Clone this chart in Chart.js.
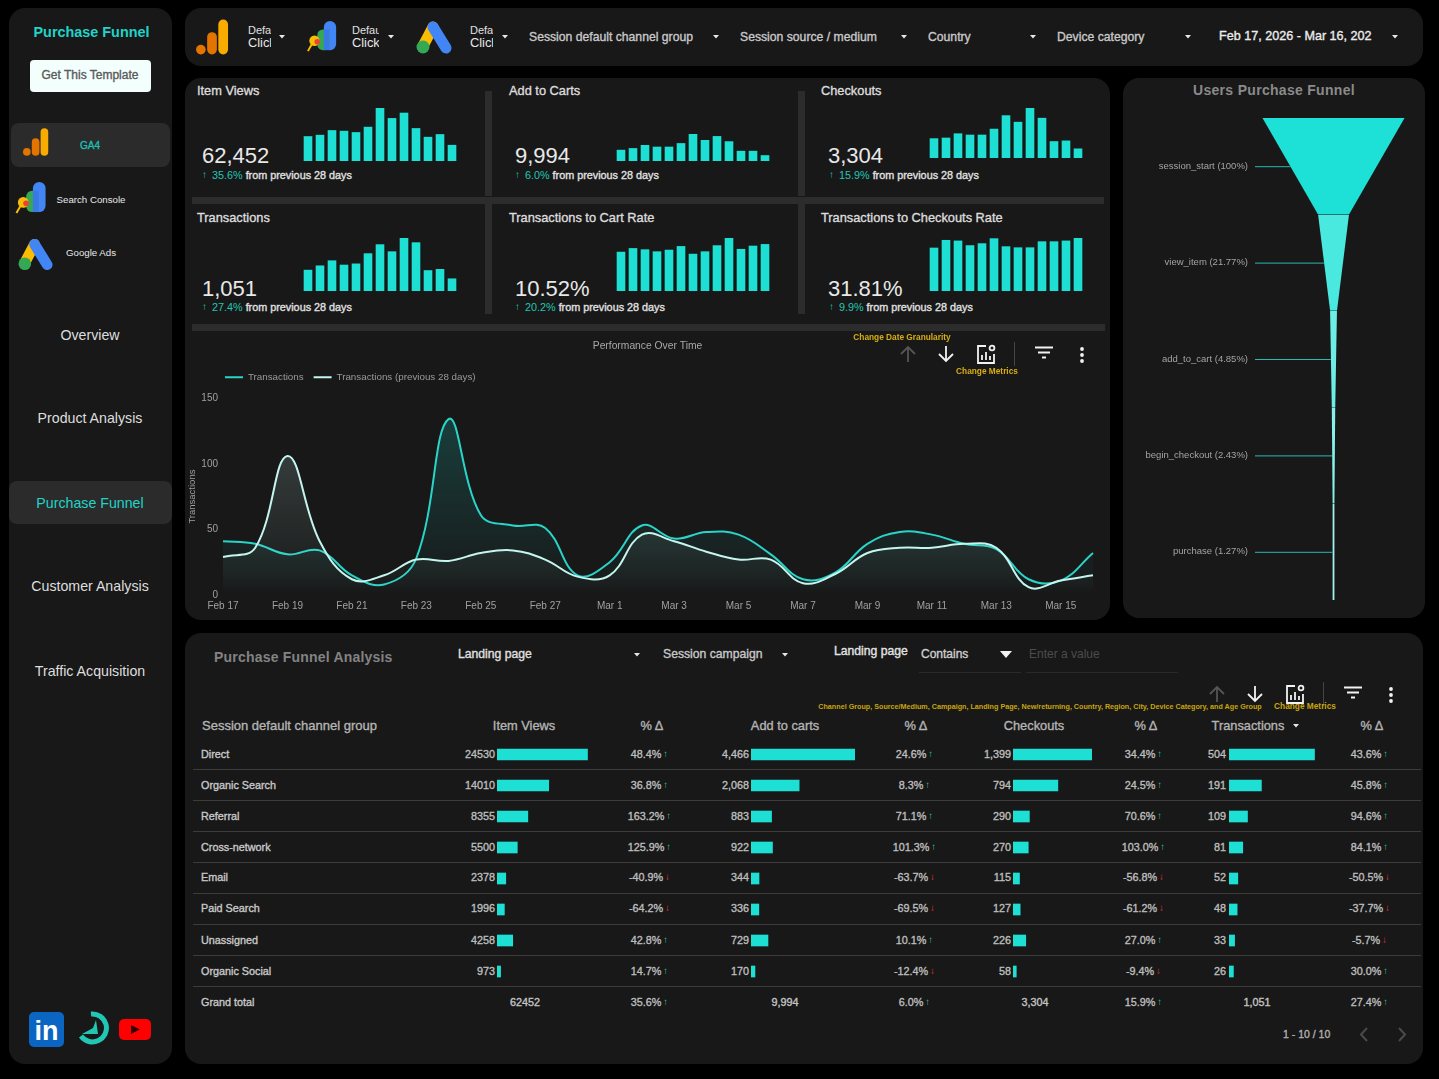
<!DOCTYPE html>
<html>
<head>
<meta charset="utf-8">
<title>Purchase Funnel</title>
<script src="https://cdn.jsdelivr.net/npm/chart.js@4"></script>
<style>
  html, body { margin: 0; padding: 0; background: #000; width: 1439px; height: 1079px; overflow: hidden; }
  body { position: relative; font-family: "Liberation Sans", Arial, sans-serif; }
  .panel { position: absolute; background: #181818; border-radius: 16px; }
  .t { position: absolute; white-space: nowrap; line-height: 1.2; }
  .box { position: absolute; }
  canvas { position: absolute; }
  svg { position: absolute; overflow: visible; }
</style>
</head>
<body>
<script>
// ---- data ----
const days = ['Feb 17','Feb 18','Feb 19','Feb 20','Feb 21','Feb 22','Feb 23','Feb 24','Feb 25','Feb 26','Feb 27','Feb 28',
  'Mar 1','Mar 2','Mar 3','Mar 4','Mar 5','Mar 6','Mar 7','Mar 8','Mar 9','Mar 10','Mar 11','Mar 12','Mar 13','Mar 14','Mar 15','Mar 16'];
const transactionsDaily = [41,39,31,34,15,8,28,134,61,53,51,15,25,53,43,48,46,31,12,17,39,48,46,39,35,12,11,32];
const transactionsPrevious = [29,36,106,41,12,15,27,26,32,34,27,14,15,46,41,33,27,27,9,16,32,36,36,39,36,6,11,15];

const sparkItemViews = [3700,3900,4600,4500,4300,5100,7900,6400,7200,4900,3600,4000,2400];
const sparkAddToCarts = [540,620,770,690,690,860,1300,1010,1200,950,490,490,280];
const sparkCheckouts = [184,190,230,218,218,273,399,338,467,375,157,163,89];
const sparkTransactions = [54,65,78,67,70,96,119,101,135,124,53,56,32];
const sparkCartRate = [9.7,10.6,10.3,9.8,10.2,11.1,9.2,9.8,11.3,13.1,10.4,11.2,11.6];
const sparkCheckoutRate = [28.7,33.8,33.4,30.3,31.6,34.9,29.6,28.9,28.9,32.9,32.9,33.4,35.1];

const funnelPercent = [100,21.77,4.85,2.43,1.27];
const funnelLabels = ['session_start (100%)','view_item (21.77%)','add_to_cart (4.85%)','begin_checkout (2.43%)','purchase (1.27%)'];

const channels = ['Direct','Organic Search','Referral','Cross-network','Email','Paid Search','Unassigned','Organic Social'];
const itemViews = [24530,14010,8355,5500,2378,1996,4258,973];
const itemViewsDelta = [48.4,36.8,163.2,125.9,-40.9,-64.2,42.8,14.7];
const addToCarts = [4466,2068,883,922,344,336,729,170];
const addToCartsDelta = [24.6,8.3,71.1,101.3,-63.7,-69.5,10.1,-12.4];
const checkouts = [1399,794,290,270,115,127,226,58];
const checkoutsDelta = [34.4,24.5,70.6,103.0,-56.8,-61.2,27.0,-9.4];
const transactions = [504,191,109,81,52,48,33,26];
const transactionsDelta = [43.6,45.8,94.6,84.1,-50.5,-37.7,-5.7,30.0];
const grandTotal = ['62452','9,994','3,304','1,051'];
const grandDelta = [35.6,6.0,15.9,27.4];

const kpiTitles = ['Item Views','Add to Carts','Checkouts','Transactions','Transactions to Cart Rate','Transactions to Checkouts Rate'];
const kpiValues = ['62,452','9,994','3,304','1,051','10.52%','31.81%'];
const kpiDeltas = ['35.6%','6.0%','15.9%','27.4%','20.2%','9.9%'];

const navItems = ['Overview','Product Analysis','Purchase Funnel','Customer Analysis','Traffic Acquisition'];

// ---- small helpers ----
const TEAL = '#1ddfd4';
const FONT = '"Liberation Sans", Arial, sans-serif';
Chart.defaults.font.family = FONT;
Chart.defaults.animation = false;

function box(x, y, w, h, css) {
  const d = document.createElement('div');
  d.className = 'box';
  d.style.cssText = `left:${x}px;top:${y}px;width:${w}px;height:${h}px;${css || ''}`;
  document.body.appendChild(d);
  return d;
}
function panel(x, y, w, h) {
  const d = box(x, y, w, h);
  d.className = 'panel';
}
// a = l / c / r, y is the vertical middle of the text
function put(text, x, y, size, color, a, extra) {
  const s = document.createElement('span');
  s.className = 't';
  s.textContent = text;
  const tx = a === 'c' ? '-50%' : a === 'r' ? '-100%' : '0';
  s.style.cssText = `left:${x}px;top:${y}px;font-size:${size}px;color:${color};transform:translate(${tx},-50%);${extra || ''}`;
  document.body.appendChild(s);
  return s;
}
const SOFT = '-webkit-text-stroke:0.35px;';
function svg(x, y, w, h, vb, inner) {
  const d = document.createElement('div');
  d.innerHTML = `<svg style="left:${x}px;top:${y}px" width="${w}" height="${h}" viewBox="${vb}">${inner}</svg>`;
  document.body.appendChild(d.firstChild);
}
function caret(x, y) {
  svg(x - 3, y - 2, 6, 4, '0 0 6 4', '<path d="M0 0H6L3 3.5Z" fill="#e8e8e8"/>');
}
function gaIcon(x, y, w, h) {
  svg(x, y, w, h, '0 0 34 36', '<rect x="23" y="0" width="10" height="36" rx="5" fill="#f9ab00"/><rect x="11.5" y="13" width="10" height="23" rx="5" fill="#e37400"/><circle cx="5" cy="31" r="5" fill="#e37400"/>');
}
function gscIcon(x, y, w, h) {
  svg(x, y, w, h, '0 0 32 34', '<rect x="18" y="0" width="13" height="31" rx="6.5" fill="#4285f4"/><rect x="11" y="9" width="13" height="22" rx="6" fill="#34a853"/><rect x="18" y="9" width="6" height="22" fill="#3b78e7"/><circle cx="8" cy="21" r="5.5" fill="#fbbc04"/><circle cx="11" cy="22" r="3" fill="#ea4335"/><path d="M5 25L1 32" stroke="#fbbc04" stroke-width="2"/>');
}
function adsIcon(x, y, w, h) {
  svg(x, y, w, h, '0 0 36 33', '<path d="M17 6L7 25" stroke="#fbbc04" stroke-width="11" stroke-linecap="round"/><path d="M17 6L30 27" stroke="#4285f4" stroke-width="11" stroke-linecap="round"/><circle cx="7" cy="26" r="6.5" fill="#34a853"/>');
}
// arrows, metric picker, filter and menu buttons above the chart and the table
function toolbar(xUp, y) {
  const st = 'fill="none" stroke-width="1.8"';
  svg(xUp - 9, y - 9, 18, 18, '0 0 18 18', `<path d="M9 17V2M2 9L9 2L16 9" ${st} stroke="#555"/>`);
  svg(xUp + 29, y - 9, 18, 18, '0 0 18 18', `<path d="M9 1V16M2 9L9 16L16 9" ${st} stroke="#f2f2f2"/>`);
  svg(xUp + 68, y - 10, 20, 20, '0 0 20 20', `<path d="M10 2H2V19H18V10" ${st} stroke="#f2f2f2"/><path d="M6 16V11M10 16V8M14 16V12" ${st} stroke="#f2f2f2"/><circle cx="16" cy="4" r="2.4" ${st} stroke="#f2f2f2"/>`);
  box(xUp + 106, y - 12, 1, 24, 'background:#444');
  svg(xUp + 126, y - 8, 20, 14, '0 0 20 14', `<path d="M1 1.5H19M4 6.5H16M8 11.5H12" ${st} stroke="#f2f2f2"/>`);
  svg(xUp + 172, y - 7, 4, 16, '0 0 4 16', '<circle cx="2" cy="2" r="1.9" fill="#f2f2f2"/><circle cx="2" cy="8" r="1.9" fill="#f2f2f2"/><circle cx="2" cy="14" r="1.9" fill="#f2f2f2"/>');
}
function newCanvas(x, y, w, h) {
  const c = document.createElement('canvas');
  c.width = w; c.height = h;
  c.style.cssText = `left:${x}px;top:${y}px;width:${w}px;height:${h}px`;
  document.body.appendChild(c);
  return c;
}

// ---- panels ----
panel(9, 8, 163, 1056);
panel(185, 8, 1238, 58);
panel(185, 78, 925, 542);
panel(1123, 78, 302, 540);
panel(185, 633, 1238, 431);

// ---- sidebar ----
put('Purchase Funnel', 91.5, 33, 14.4, '#22d3c8', 'c', 'font-weight:bold;');
box(30, 60, 121, 32, 'background:#f3fffd;border-radius:4px');
put('Get This Template', 90, 75, 12, '#5a5a5a', 'c', SOFT);
box(11, 123, 159, 44, 'background:#2b2b2b;border-radius:8px');
gaIcon(23, 128, 26, 28);
put('GA4', 90, 145.5, 10, '#1fbfb4', 'c', SOFT);
gscIcon(15, 182, 32, 33);
put('Search Console', 91, 199.5, 9.7, '#e8e8e8', 'c');
adsIcon(18, 238, 35, 33);
put('Google Ads', 91, 253, 9.7, '#e8e8e8', 'c');
box(9, 481, 163, 43, 'background:#2b2b2b;border-radius:8px');
[336, 419, 504, 587, 672].forEach(function(y, i) {
  put(navItems[i], 90, y, 14.2, i === 2 ? '#22d3c8' : '#dedede', 'c');
});
// social links
box(29, 1012, 35, 35, 'background:#0a66c2;border-radius:5px');
put('in', 46.5, 1031, 27, '#fff', 'c', 'font-weight:bold;');
svg(79, 1012, 28, 36, '0 0 28 36', '<path d="M12 2A14 14 0 1 1 2 24" fill="none" stroke="#22c6b4" stroke-width="5"/><path d="M3 22L14 16L17 8L19 22Z" fill="#22c6b4"/>');
box(119, 1019, 32, 21, 'background:#f00;border-radius:5px');
svg(131, 1025, 9, 9, '0 0 9 9', '<path d="M0 0L9 4.5L0 9Z" fill="#3a0000"/>');

// ---- top filter bar ----
gaIcon(196, 19, 33, 36);
gscIcon(306, 21, 32, 32);
adsIcon(416, 21, 36, 33);
[[248, 23, 282], [352, 27, 391], [470, 23, 505]].forEach(function(g) {
  put('Default', g[0], 31, 11, '#e0e0e0', 'l', `overflow:hidden;width:${g[1]}px;`);
  put('Click to select', g[0], 43, 12.8, '#e8e8e8', 'l', `overflow:hidden;width:${g[1]}px;`);
  caret(g[2], 37);
});
put('Session default channel group', 529, 37, 12.2, '#c8c8c8', 'l', SOFT);
caret(716, 37);
put('Session source / medium', 740, 37, 12.2, '#c8c8c8', 'l', SOFT);
caret(904, 37);
put('Country', 928, 37, 12.2, '#c8c8c8', 'l', SOFT);
caret(1033, 37);
put('Device category', 1057, 37, 12.2, '#c8c8c8', 'l', SOFT);
caret(1188, 37);
put('Feb 17, 2026 - Mar 16, 202', 1219, 36.5, 12.6, '#ececec', 'l', SOFT);
caret(1395, 37);

// ---- KPI tiles ----
[[485, 91, 7, 105], [798, 91, 7, 105], [485, 204, 7, 110], [798, 204, 7, 110]].forEach(function(r) {
  box(r[0], r[1], r[2], r[3], 'background:#2c2c2c');
});
box(192, 197, 912, 7, 'background:#2c2c2c');
box(192, 324, 913, 7, 'background:#2c2c2c');

const tileX = [197, 509, 821];
const valueX = [202, 515, 828];
const deltaX = [203, 516, 830];
kpiTitles.forEach(function(title, i) {
  const col = i % 3, row = i < 3 ? 0 : 1;
  put(title, tileX[col], row ? 217.5 : 90.5, 12.8, '#dcdcdc', 'l', SOFT);
  put(kpiValues[i], valueX[col], row ? 288.5 : 155.5, 22, '#e8e8e8', 'l');
  const y = row ? 307 : 175;
  put('↑', deltaX[col] - 1, y, 10, '#22c6b4', 'l', 'font-weight:bold;');
  const p = put(kpiDeltas[i], deltaX[col] + 9, y, 10.8, '#22c6b4', 'l');
  const w = p.getBoundingClientRect().width;
  put('from previous 28 days', deltaX[col] + 12 + w, y, 10.8, '#e0e0e0', 'l', SOFT);
});

// ---- sparkline bars ----
function spark(values, x, top, bottom) {
  new Chart(newCanvas(x, top, 156, bottom - top), {
    type: 'bar',
    data: { labels: values.map(function(v, i) { return i + 1; }), datasets: [{ data: values, backgroundColor: TEAL, barPercentage: 0.72, categoryPercentage: 1 }] },
    options: {
      responsive: false,
      plugins: { legend: { display: false }, title: { display: false }, tooltip: { enabled: false } },
      scales: {
        x: { display: false },
        y: { display: false, min: 0, max: Math.max.apply(null, values) }
      }
    }
  });
}
spark(sparkItemViews, 302, 108, 161);
spark(sparkAddToCarts, 615, 134, 161);
spark(sparkCheckouts, 928, 108, 158);
spark(sparkTransactions, 302, 238, 291);
spark(sparkCartRate, 615, 238, 291);
spark(sparkCheckoutRate, 928, 238, 291);

// ---- performance over time ----
function areaFill(rgb, a0) {
  return function(ctx) {
    const area = ctx.chart.chartArea;
    if (!area) return 'transparent';
    const g = ctx.chart.ctx.createLinearGradient(0, area.top, 0, area.bottom);
    g.addColorStop(0, `rgba(${rgb},${a0})`);
    g.addColorStop(0.9, `rgba(${rgb},0.03)`);
    g.addColorStop(1, `rgba(${rgb},0)`);
    return g;
  };
}
new Chart(newCanvas(185, 335, 925, 285), {
  type: 'line',
  data: {
    labels: days,
    datasets: [
      { label: 'Transactions', data: transactionsDaily, borderColor: '#2ad4c8', borderWidth: 2, pointRadius: 0, tension: 0.4, fill: 'origin', backgroundColor: areaFill('29,200,190', 0.24), order: 1 },
      { label: 'Transactions (previous 28 days)', data: transactionsPrevious, borderColor: '#c4f5ee', borderWidth: 2, pointRadius: 0, tension: 0.4, fill: 'origin', backgroundColor: areaFill('190,235,228', 0.24), order: 0 }
    ]
  },
  options: {
    responsive: false,
    layout: { padding: { right: 17 } },
    plugins: {
      title: { display: true, text: 'Performance Over Time', color: '#a8a8a8', font: { size: 10.3, weight: 'normal' }, padding: { top: 5, bottom: 16 } },
      legend: {
        position: 'top', align: 'start',
        labels: {
          color: '#9a9a9a', font: { size: 9.8 }, usePointStyle: true, pointStyle: 'line', pointStyleWidth: 18, padding: 10,
          sort: function(a, b) { return a.datasetIndex - b.datasetIndex; }
        }
      },
      tooltip: { enabled: false }
    },
    scales: {
      x: {
        afterFit: function(s) { s.height = 25; },
        grid: { display: false, drawTicks: false },
        border: { display: false },
        ticks: {
          autoSkip: false, maxRotation: 0, padding: 5, color: '#a0a0a0', font: { size: 10 },
          callback: function(v, i) { return i % 2 === 0 ? days[i] : ''; }
        }
      },
      y: {
        afterFit: function(s) { s.width = 38; },
        min: 0, max: 150,
        grid: { display: false, drawTicks: false },
        border: { display: false },
        title: { display: true, text: 'Transactions', color: '#a0a0a0', font: { size: 9.5 }, padding: { top: 2, bottom: 0 } },
        ticks: { stepSize: 50, padding: 5, color: '#a0a0a0', font: { size: 10 } }
      }
    }
  },
  plugins: [{
    id: 'legendOffset',
    afterLayout: function(chart) {
      // legend starts over the plot, title centres on the whole panel
      chart.legend.left = 30;
      chart.legend.top -= 6;
      chart.titleBlock.right = 925;
    }
  }]
});
put('Change Date Granularity', 902, 337.5, 8.3, '#d8ae12', 'c', 'font-weight:bold;');
toolbar(908, 354);
put('Change Metrics', 987, 371.5, 8.3, '#d8ae12', 'c', 'font-weight:bold;');

// ---- users purchase funnel ----
put('Users Purchase Funnel', 1274, 90, 14, '#8a8a8a', 'c', 'font-weight:bold;letter-spacing:0.3px;');
const funnelColors = ['#1de1d6', '#4ae9df', '#6ceee6', '#86f1ea', '#9ef3ed'];
const funnelEdge = funnelPercent.concat(funnelPercent[funnelPercent.length - 1]);
new Chart(newCanvas(1123, 118, 302, 482), {
  type: 'line',
  data: {
    datasets: [
      { data: funnelEdge.map(function(w, i) { return { x: -w / 2, y: i }; }), borderWidth: 0, pointRadius: 0, fill: '+1', backgroundColor: TEAL,
        segment: { backgroundColor: function(ctx) { return funnelColors[ctx.p0DataIndex]; } } },
      { data: funnelEdge.map(function(w, i) { return { x: w / 2, y: i }; }), borderWidth: 0, pointRadius: 0, fill: false }
    ]
  },
  options: {
    responsive: false,
    indexAxis: 'y',
    plugins: { legend: { display: false }, title: { display: false }, tooltip: { enabled: false } },
    scales: {
      x: { type: 'linear', display: false, min: -148.2, max: 64.4 },
      y: { type: 'linear', display: false, reverse: true, min: 0, max: 5 }
    }
  },
  plugins: [{
    id: 'funnelLabels',
    afterDatasetsDraw: function(chart) {
      const c = chart.ctx, xs = chart.scales.x, ys = chart.scales.y;
      funnelLabels.forEach(function(label, i) {
        const y = ys.getPixelForValue(i + 0.5);
        const edge = xs.getPixelForValue(-(funnelEdge[i] + funnelEdge[i + 1]) / 4);
        c.save();
        c.strokeStyle = '#2bb8ae';
        c.lineWidth = 1;
        c.beginPath();
        c.moveTo(132, y + 0.5);
        c.lineTo(edge, y + 0.5);
        c.stroke();
        c.fillStyle = '#a4a4a4';
        c.font = '9.5px ' + FONT;
        c.textAlign = 'right';
        c.textBaseline = 'middle';
        c.fillText(label, 125, y);
        c.restore();
      });
    }
  }]
});

// ---- purchase funnel analysis table ----
put('Purchase Funnel Analysis', 214, 656.5, 14, '#838383', 'l', 'font-weight:bold;letter-spacing:0.2px;');
put('Landing page', 458, 654, 12.2, '#e0e0e0', 'l', SOFT);
caret(637, 655);
put('Session campaign', 663, 654, 12.2, '#c8c8c8', 'l', SOFT);
caret(785, 655);
put('Landing page', 834, 651, 12.2, '#e4e4e4', 'l', SOFT);
put('Contains', 921, 654, 12, '#cfcfcf', 'l', SOFT);
svg(1000, 651, 12, 7, '0 0 12 7', '<path d="M0 0H12L6 7Z" fill="#f2f2f2"/>');
put('Enter a value', 1029, 654, 12, '#4c4c4c', 'l');
box(919, 672, 102, 1, 'background:#2a2a2a');
box(1026, 672, 152, 1, 'background:#2a2a2a');
toolbar(1217, 694);
put('Channel Group, Source/Medium, Campaign, Landing Page, New/returning, Country, Region, City, Device Category, and Age Group', 1040, 706.5, 7.2, '#c9a50f', 'c', 'font-weight:bold;');
put('Change Metrics', 1305, 706.5, 8.3, '#c9a50f', 'c', 'font-weight:bold;');

put('Session default channel group', 202, 726, 13, '#b4b4b4', 'l', SOFT);
[['Item Views', 524], ['% Δ', 652], ['Add to carts', 785], ['% Δ', 916], ['Checkouts', 1034], ['% Δ', 1146], ['Transactions', 1248], ['% Δ', 1372]].forEach(function(h) {
  put(h[0], h[1], 726, 12.8, '#b4b4b4', 'c', SOFT);
});
caret(1296, 726);

const rowY = [754, 784.5, 816, 847, 877, 908, 940, 971];
const sepY = [769, 800, 831, 862, 893, 924, 955, 986];
sepY.forEach(function(y) { box(193, y, 1228, 1, 'background:#3c3c3c'); });

function deltaCell(v, centerX, y) {
  const up = v >= 0;
  const s = put(v.toFixed(1) + '%', centerX - 4, y, 10.8, '#bdbdbd', 'c', SOFT);
  const r = s.getBoundingClientRect();
  put(up ? '↑' : '↓', r.right + 2, y, 9.5, up ? '#22c6a4' : '#e8323c', 'l', 'font-weight:bold;');
}
function fmt(v) { return v.toLocaleString('en-US'); }
const columns = [
  { values: itemViews, delta: itemViewsDelta, endX: 495, barX: 497, barW: 90.5, deltaX: 650, plain: true },
  { values: addToCarts, delta: addToCartsDelta, endX: 749, barX: 751, barW: 104, deltaX: 915 },
  { values: checkouts, delta: checkoutsDelta, endX: 1011, barX: 1012.5, barW: 79, deltaX: 1144 },
  { values: transactions, delta: transactionsDelta, endX: 1226, barX: 1228.5, barW: 85.5, deltaX: 1370 }
];
channels.forEach(function(name, r) {
  put(name, 201, rowY[r], 10.8, '#c8c8c8', 'l', SOFT);
  columns.forEach(function(col) {
    put(col.plain ? String(col.values[r]) : fmt(col.values[r]), col.endX, rowY[r], 10.8, '#bdbdbd', 'r', SOFT);
    deltaCell(col.delta[r], col.deltaX, rowY[r]);
  });
});
// one horizontal bar chart per metric column, rows line up with the table
columns.forEach(function(col) {
  new Chart(newCanvas(col.barX, 738.5, Math.ceil(col.barW), 248), {
    type: 'bar',
    data: { labels: channels, datasets: [{ data: col.values, backgroundColor: TEAL, barThickness: 11 }] },
    options: {
      responsive: false,
      indexAxis: 'y',
      plugins: { legend: { display: false }, title: { display: false }, tooltip: { enabled: false } },
      scales: {
        x: { display: false, min: 0, max: Math.max.apply(null, col.values) * Math.ceil(col.barW) / col.barW },
        y: { display: false }
      }
    }
  });
});

put('Grand total', 201, 1002, 10.8, '#c8c8c8', 'l', SOFT);
[525, 785, 1035, 1257].forEach(function(x, i) {
  put(grandTotal[i], x, 1002, 10.8, '#c4c4c4', 'c', SOFT);
  deltaCell(grandDelta[i], columns[i].deltaX, 1002);
});
put('1 - 10 / 10', 1283, 1034, 10.5, '#b0b0b0', 'l', SOFT);
svg(1359, 1027, 9, 15, '0 0 9 15', '<path d="M8 1L2 7.5L8 14" fill="none" stroke="#4a4a4a" stroke-width="2"/>');
svg(1398, 1027, 9, 15, '0 0 9 15', '<path d="M1 1L7 7.5L1 14" fill="none" stroke="#4a4a4a" stroke-width="2"/>');
</script>
</body>
</html>
